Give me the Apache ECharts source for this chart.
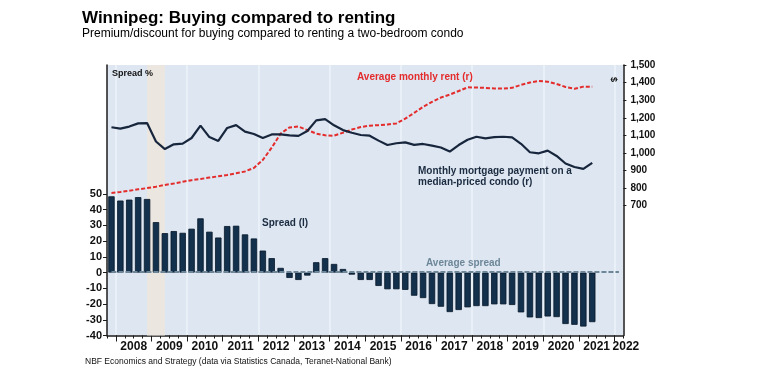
<!DOCTYPE html>
<html><head><meta charset="utf-8">
<script src="https://cdn.jsdelivr.net/npm/echarts@6/dist/echarts.min.js"></script>
<style>html,body{margin:0;padding:0;background:#fff}#c{width:759px;height:380px}</style>
</head><body><div id="c"></div>
<script>
const quarters = ['2007Q4',
 '2008Q1','2008Q2','2008Q3','2008Q4','2009Q1','2009Q2','2009Q3','2009Q4',
 '2010Q1','2010Q2','2010Q3','2010Q4','2011Q1','2011Q2','2011Q3','2011Q4',
 '2012Q1','2012Q2','2012Q3','2012Q4','2013Q1','2013Q2','2013Q3','2013Q4',
 '2014Q1','2014Q2','2014Q3','2014Q4','2015Q1','2015Q2','2015Q3','2015Q4',
 '2016Q1','2016Q2','2016Q3','2016Q4','2017Q1','2017Q2','2017Q3','2017Q4',
 '2018Q1','2018Q2','2018Q3','2018Q4','2019Q1','2019Q2','2019Q3','2019Q4',
 '2020Q1','2020Q2','2020Q3','2020Q4','2021Q1','2021Q2','2021Q3','2021Q4',
 '2022Q1'];
// Spread (%), left axis
const spread = [48.5,45.8,46.4,48.0,46.8,32.1,25.1,26.4,25.3,27.9,34.5,26.0,22.3,29.6,29.8,24.3,21.7,
 14.0,9.2,3.0,-3.4,-4.7,-1.9,6.6,9.2,5.5,2.3,-1.3,-4.7,-4.7,-8.5,-10.6,-10.6,-11.0,-14.7,-16.2,
 -20.0,-21.7,-25.1,-23.8,-22.1,-21.3,-21.3,-20.2,-20.2,-20.6,-25.3,-28.5,-28.9,-27.9,-28.3,
 -32.7,-33.2,-34.3,-31.5];
// Average monthly rent ($), right axis
const rent = [772,778,785,793,800,808,818,826,836,845,852,860,867,875,884,895,915,
 960,1030,1110,1145,1150,1130,1110,1100,1098,1115,1133,1147,1155,1158,1162,1168,1195,1228,1262,
 1290,1315,1332,1352,1373,1372,1370,1367,1366,1370,1387,1400,1409,1405,1392,1375,1365,1377,1377];
// Monthly mortgage payment on a median-priced condo ($), right axis
const mortgage = [1146,1138,1150,1168,1170,1065,1022,1049,1053,1085,1155,1090,1068,1142,1158,1121,1108,
 1085,1105,1106,1100,1097,1125,1185,1192,1157,1130,1115,1102,1098,1070,1045,1055,1060,1046,1051,
 1042,1031,1008,1045,1075,1092,1083,1090,1092,1088,1052,1004,998,1013,983,940,920,909,944];
const avgSpread = 0.6;
const recession = ['2008Q4','2009Q2'];
const yearLabels = ['2008','2009','2010','2011','2012','2013','2014','2015','2016','2017','2018','2019','2020','2021','2022'];
const spreadTicks = [-40,-30,-20,-10,0,10,20,30,40,50];
const dollarTicks = [700,800,900,1000,1100,1200,1300,1400,1500];

const X_MIN = 2007.75, X_MAX = 2022.25;
const yearStarts = yearLabels.map(Number);
const yearMids = yearLabels.map(y => Math.min(Number(y) + 0.5, X_MAX));
const gridYears = yearStarts.filter(y => y % 2 === 0);

const FONT = '"Liberation Sans", Arial, sans-serif';
const AX = '#1c1c1c';
const chart = echarts.init(document.getElementById('c'), null, {renderer: 'canvas'});
chart.setOption({
  animation: false,
  backgroundColor: '#ffffff',
  textStyle: {fontFamily: FONT},
  grid: {left: 107, right: 135.6, top: 65, bottom: 44.5, show: true, backgroundColor: '#dde6f1',
         borderWidth: 0, containLabel: false, outerBoundsMode: 'none'},
  xAxis: [
    {type: 'category', data: quarters, boundaryGap: true, position: 'bottom',
     axisLine: {show: true, onZero: false, lineStyle: {color: AX, width: 1.5}},
     axisTick: {show: true, interval: 0, length: 3, lineStyle: {color: AX, width: 1}},
     axisLabel: {show: false}, splitLine: {show: false}},
    {type: 'value', min: X_MIN, max: X_MAX, position: 'bottom',
     axisLine: {show: false, onZero: false},
     axisTick: {show: true, customValues: yearStarts, length: 6, lineStyle: {color: AX, width: 1}},
     axisLabel: {customValues: yearMids, showMaxLabel: true, showMinLabel: true, margin: 5,
       formatter: v => v >= X_MAX ? '{last|' + String(Math.floor(v)) + '}' : String(Math.floor(v)),
       rich: {last: {fontSize: 12, fontWeight: 'bold', color: '#111', fontFamily: FONT, padding: [0, 0, 0, 5]}},
       fontSize: 12, fontWeight: 'bold', color: '#111', fontFamily: FONT},
     splitLine: {show: false}},
    {type: 'value', min: X_MIN, max: X_MAX, position: 'bottom',
     axisLine: {show: false, onZero: false},
     axisTick: {show: false, customValues: gridYears},
     axisLabel: {show: false},
     splitLine: {show: true, lineStyle: {color: '#eef3f9', width: 1.6}}}
  ],
  yAxis: [
    {type: 'value', position: 'left', min: -40, max: 132,
     axisLine: {show: true, onZero: false, lineStyle: {color: AX, width: 1.5}},
     axisTick: {show: true, customValues: spreadTicks, length: 4, lineStyle: {color: AX}},
     axisLabel: {customValues: spreadTicks, margin: 5, fontSize: 11, fontWeight: 'bold', color: '#111', fontFamily: FONT},
     splitLine: {show: false}},
    {type: 'value', position: 'right', min: -38, max: 1500,
     axisLine: {show: true, onZero: false, lineStyle: {color: AX, width: 1.5}},
     axisTick: {show: true, customValues: dollarTicks, length: 3, lineStyle: {color: AX}},
     axisLabel: {customValues: dollarTicks, margin: 7, fontSize: 10, fontWeight: 'bold', color: '#111', fontFamily: FONT,
       formatter: v => v.toLocaleString('en-US')},
     splitLine: {show: false}}
  ],
  series: [
    {type: 'line', xAxisIndex: 0, yAxisIndex: 0, data: [], z: 1, silent: true,
     markArea: {silent: true, itemStyle: {color: '#ebe6e0'},
       data: [[{xAxis: recession[0]}, {xAxis: recession[1]}]]}},
    {name: 'Spread', type: 'bar', xAxisIndex: 0, yAxisIndex: 0, data: spread, barWidth: 6.4, z: 3,
     itemStyle: {color: '#13304c', borderColor: '#08182a', borderWidth: 0.8},
     markLine: {silent: true, symbol: 'none', label: {show: false},
       lineStyle: {color: '#6d8799', type: [5, 2], width: 2},
       data: [[{coord: [quarters[0], avgSpread]}, {coord: [quarters[quarters.length - 1], avgSpread]}]]}},
    {name: 'Rent', type: 'line', xAxisIndex: 0, yAxisIndex: 1, data: rent, z: 4, symbol: 'none',
     lineStyle: {color: '#e42c2c', width: 2, type: [4, 2]}},
    {name: 'Mortgage', type: 'line', xAxisIndex: 0, yAxisIndex: 1, data: mortgage, z: 5, symbol: 'none',
     lineStyle: {color: '#17263c', width: 2.2}}
  ],
  graphic: [
    {type: 'text', left: 82, top: 10, style: {text: 'Winnipeg: Buying compared to renting', font: 'bold 17px ' + FONT, fill: '#000'}},
    {type: 'text', left: 82, top: 27.5, style: {text: 'Premium/discount for buying compared to renting a two-bedroom condo', font: '12px ' + FONT, fill: '#000'}},
    {type: 'text', left: 85, top: 357, style: {text: 'NBF Economics and Strategy (data via Statistics Canada, Teranet-National Bank)', font: '8.5px ' + FONT, fill: '#111'}},
    {type: 'text', left: 112, top: 69.5, z: 10, style: {text: 'Spread %', font: 'bold 9px ' + FONT, fill: '#111'}},
    {type: 'text', left: 357, top: 72.5, z: 10, style: {text: 'Average monthly rent (r)', font: 'bold 10px ' + FONT, fill: '#e42c2c'}},
    {type: 'text', left: 418, top: 166, z: 10, style: {text: 'Monthly mortgage payment on a\nmedian-priced condo (r)', font: 'bold 10px ' + FONT, lineHeight: 11, fill: '#1b2b40'}},
    {type: 'text', left: 262, top: 218, z: 10, style: {text: 'Spread (l)', font: 'bold 10px ' + FONT, fill: '#1b2b40'}},
    {type: 'text', left: 426, top: 258, z: 10, style: {text: 'Average spread', font: 'bold 10px ' + FONT, fill: '#6d8799'}},
    {type: 'text', x: 618, y: 77, rotation: -Math.PI / 2, z: 10, style: {text: '$', font: 'bold 9px ' + FONT, fill: '#111'}}
  ]
});
</script>
</body></html>
